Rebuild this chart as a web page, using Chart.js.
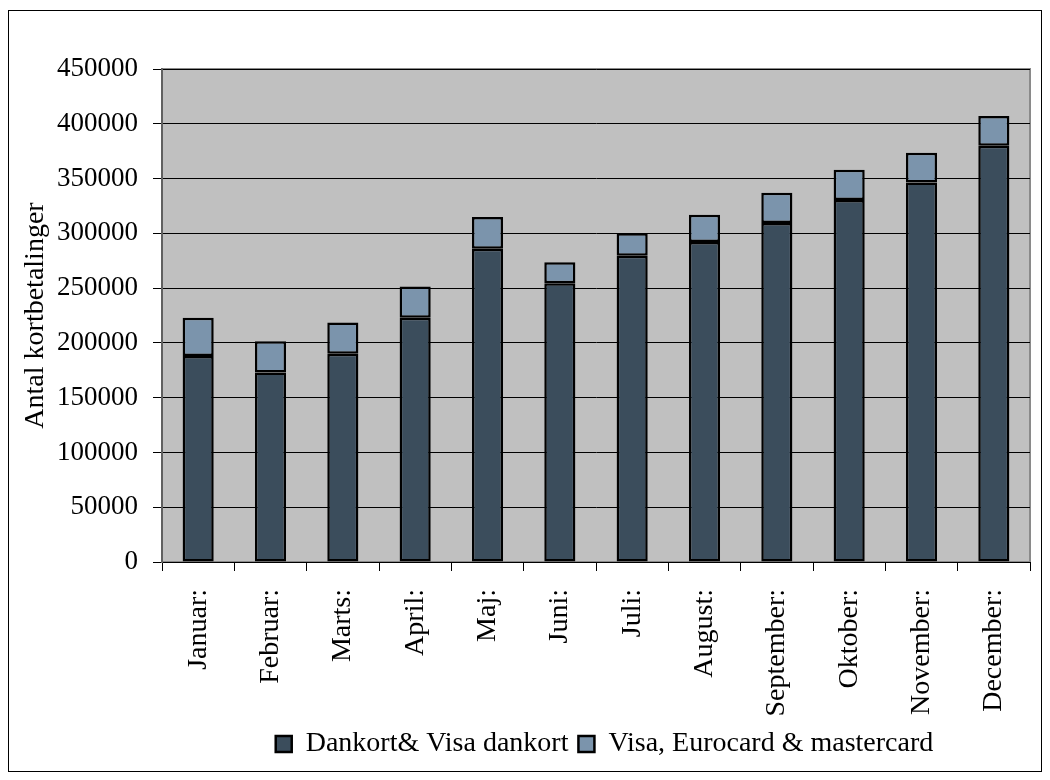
<!DOCTYPE html>
<html>
<head>
<meta charset="utf-8">
<script src="https://cdn.jsdelivr.net/npm/chart.js@4"></script>
<style>
body{margin:0;background:#fff;}
#frame{position:absolute;left:8px;top:10px;width:1032px;height:760px;border:1px solid #000;}
</style>
</head>
<body>
<div id="frame"><canvas id="kortChart" width="1032" height="760"></canvas></div>
<script>
const months=['Januar:','Februar:','Marts:','April:','Maj:','Juni:','Juli:','August:','September:','Oktober:','November:','December:'];
const dankort=[188000,173000,190000,223000,286000,254500,279500,292000,309500,330500,346500,380000];
const visaEuro=[35000,28500,28500,28500,29000,19000,20500,25000,27500,27500,27000,27000];
const yTicks=[0,50000,100000,150000,200000,250000,300000,350000,400000,450000];

const font='"Liberation Serif", "Times New Roman", serif';

// grey plot background like the old office charts
const plotBg={
    id:'plotBg',
    beforeDraw(chart){
        const a=chart.chartArea, c=chart.ctx;
        c.save();
        c.fillStyle='#c0c0c0';
        c.fillRect(a.left,a.top,a.right-a.left,a.bottom-a.top);
        c.strokeStyle='#8a8a8a';
        c.lineWidth=2;
        c.strokeRect(a.left,a.top,a.right-a.left,a.bottom-a.top);
        c.restore();
    }
};
// legend sits a bit right of centre
const legendShift={
    id:'legendShift',
    afterLayout(chart){
        chart.legend.left+=80;
        chart.legend.right+=80;
    }
};

const ctx=document.getElementById('kortChart').getContext('2d');
new Chart(ctx,{
    type:'bar',
    data:{
        labels:months,
        datasets:[{
            label:'Dankort& Visa dankort',
            data:dankort,
            backgroundColor:'#3b4d5c',
            borderColor:'#000',
            borderWidth:2.5,
            borderSkipped:false
        },{
            label:'Visa, Eurocard & mastercard',
            data:visaEuro,
            backgroundColor:'#7b94ac',
            borderColor:'#000',
            borderWidth:2.5,
            borderSkipped:false
        }]
    },
    options:{
        responsive:false,
        animation:false,
        layout:{padding:{top:58,right:11,left:10,bottom:3}},
        datasets:{bar:{categoryPercentage:1,barPercentage:0.43}},
        scales:{
            x:{
                stacked:true,
                grid:{drawOnChartArea:false,drawTicks:true,tickLength:9,color:'#000',offset:true},
                border:{color:'#000',width:1},
                ticks:{color:'#000',font:{family:font,size:28},minRotation:90,maxRotation:90,padding:18,autoSkip:false},
                afterFit(s){ s.height=158; s.paddingLeft=0; s.paddingRight=0; }
            },
            y:{
                stacked:true,
                min:0,
                max:450000,
                afterBuildTicks(s){ s.ticks=yTicks.map(v=>({value:v})); },
                grid:{color:'#000',lineWidth:1,tickLength:9},
                border:{color:'#606060',width:2},
                ticks:{color:'#000',font:{family:font,size:27},padding:15,callback:v=>String(v)},
                title:{display:true,text:'Antal kortbetalinger',color:'#000',font:{family:font,size:28},padding:{top:0,bottom:0}},
                afterFit(s){ s.width=143; }
            }
        },
        plugins:{
            legend:{
                position:'bottom',
                labels:{color:'#000',font:{family:font,size:28},boxWidth:16,boxHeight:16,padding:10}
            },
            tooltip:{enabled:false}
        }
    },
    plugins:[plotBg,legendShift]
});
</script>
</body>
</html>
